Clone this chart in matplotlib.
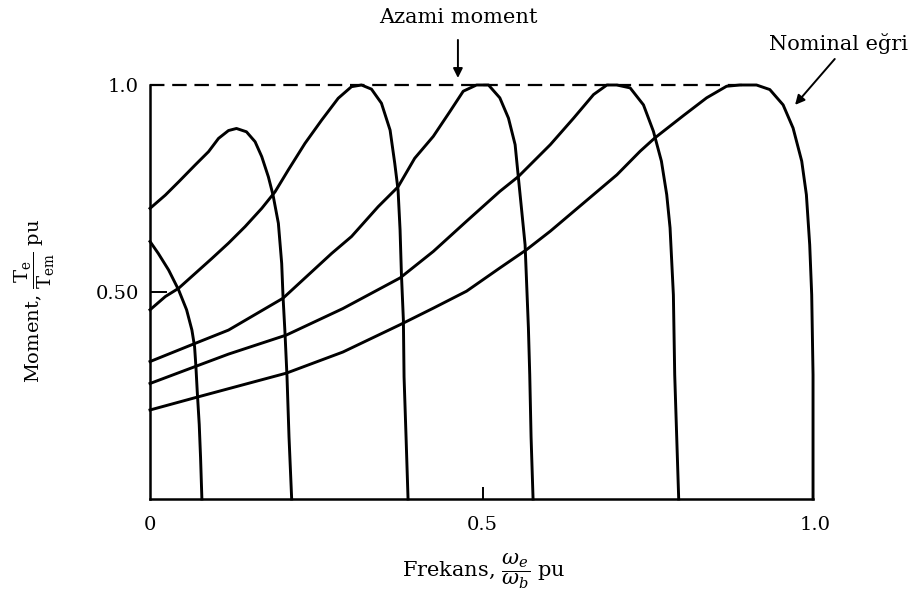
import matplotlib.pyplot as plt

plt.rcParams['font.family'] = ['DejaVu Serif']
plt.rcParams['mathtext.fontset'] = 'dejavuserif'

# torque-speed curves at different supply frequencies (per unit)
f008_x = [0, 0.0125, 0.028, 0.043, 0.055, 0.063, 0.067, 0.069, 0.071, 0.074, 0.076, 0.078]
f008_y = [0.622, 0.593, 0.553, 0.505, 0.457, 0.408, 0.368, 0.32, 0.26, 0.18, 0.1, 0.0]

f021_x = [0, 0.023, 0.043, 0.068, 0.088, 0.103, 0.118, 0.130, 0.145, 0.158, 0.168, 0.178,
          0.185, 0.193, 0.198, 0.200, 0.203, 0.206, 0.209, 0.213]
f021_y = [0.702, 0.734, 0.766, 0.807, 0.839, 0.871, 0.890, 0.895, 0.887, 0.863, 0.827, 0.778,
          0.734, 0.666, 0.569, 0.489, 0.40, 0.295, 0.15, 0.0]

f039_x = [0, 0.023, 0.043, 0.068, 0.093, 0.118, 0.143, 0.168, 0.188, 0.208, 0.233, 0.258,
          0.283, 0.303, 0.318, 0.333, 0.348, 0.361, 0.368, 0.373, 0.376, 0.378, 0.381,
          0.382, 0.385, 0.388]
f039_y = [0.457, 0.489, 0.509, 0.545, 0.581, 0.618, 0.658, 0.702, 0.742, 0.795, 0.859, 0.915,
          0.968, 0.996, 1.0, 0.99, 0.956, 0.891, 0.811, 0.746, 0.65, 0.545, 0.432,
          0.295, 0.15, 0.0]

f058_x = [0, 0.068, 0.118, 0.2, 0.273, 0.303, 0.343, 0.373, 0.398, 0.426, 0.451, 0.471,
          0.491, 0.509, 0.526, 0.539, 0.549, 0.554, 0.559, 0.564, 0.566, 0.569, 0.571,
          0.573, 0.576]
f058_y = [0.332, 0.376, 0.408, 0.485, 0.593, 0.634, 0.706, 0.754, 0.823, 0.876, 0.936, 0.985,
          1.0, 1.0, 0.969, 0.92, 0.856, 0.775, 0.695, 0.614, 0.534, 0.413, 0.30,
          0.15, 0.0]

f080_x = [0, 0.068, 0.118, 0.205, 0.29, 0.376, 0.426, 0.476, 0.526, 0.554, 0.602, 0.637,
          0.667, 0.687, 0.702, 0.722, 0.742, 0.757, 0.769, 0.777, 0.782, 0.787, 0.789,
          0.792, 0.795]
f080_y = [0.279, 0.32, 0.35, 0.396, 0.46, 0.534, 0.598, 0.671, 0.743, 0.779, 0.856, 0.92,
          0.977, 1.0, 1.0, 0.993, 0.952, 0.888, 0.816, 0.735, 0.655, 0.493, 0.30,
          0.15, 0.0]

f100_x = [0, 0.073, 0.205, 0.29, 0.376, 0.426, 0.476, 0.526, 0.566, 0.602, 0.652, 0.702,
          0.737, 0.759, 0.802, 0.837, 0.867, 0.887, 0.912, 0.932, 0.952, 0.967, 0.98,
          0.987, 0.992, 0.995, 0.997, 0.997]
f100_y = [0.215, 0.247, 0.304, 0.355, 0.421, 0.461, 0.502, 0.558, 0.602, 0.647, 0.715, 0.783,
          0.84, 0.872, 0.926, 0.969, 0.997, 1.0, 1.0, 0.989, 0.952, 0.896, 0.816,
          0.735, 0.614, 0.493, 0.30, 0.0]

curves = [(f008_x, f008_y), (f021_x, f021_y), (f039_x, f039_y),
          (f058_x, f058_y), (f080_x, f080_y), (f100_x, f100_y)]

max_torque = 1.0
max_torque_end = 0.89

fig = plt.figure(figsize=(9.17, 6.05), dpi=100)
ax = fig.add_axes([0.1636, 0.1752, 0.7252, 0.6843])

for cx, cy in curves:
    ax.plot(cx, cy, color='black', lw=2.1, clip_on=False, solid_joinstyle='round')

# maximum torque line
ax.plot([0, max_torque_end], [max_torque, max_torque], color='black', lw=1.6,
        dashes=(6.5, 3.5), clip_on=False)

ax.set_xlim(0, 1.0)
ax.set_ylim(0, 1.0)
ax.spines['top'].set_visible(False)
ax.spines['right'].set_visible(False)
ax.spines['left'].set_linewidth(1.8)
ax.spines['bottom'].set_linewidth(1.8)
ax.spines['bottom'].set_bounds(0, 0.997)

ax.set_xticks([0, 0.5, 1.0])
ax.set_xticklabels(['0', '0.5', '1.0'])
ax.set_yticks([0.5, 1.0])
ax.set_yticklabels(['0.50', '1.0'])
ax.tick_params(direction='in', length=9, width=1.4, labelsize=14, pad=12)
ax.tick_params(axis='y', length=12, pad=8)
for t in ax.xaxis.get_major_ticks():
    if t.get_loc() != 0.5:
        t.tick1line.set_visible(False)
ax.yaxis.get_major_ticks()[1].tick1line.set_visible(False)

ax.set_xlabel(r'Frekans, $\dfrac{\omega_e}{\omega_b}$ pu', fontsize=15)
ax.xaxis.set_label_coords(0.502, -0.128)
ax.set_ylabel(r'Moment, $\dfrac{\mathrm{T_e}}{\mathrm{T_{em}}}$ pu', fontsize=14)
ax.yaxis.set_label_coords(-0.14, 0.478)

ax.annotate('Azami moment', xy=(0.463, 1.017), xytext=(0.463, 1.162),
            ha='center', va='center', fontsize=15, annotation_clip=False,
            arrowprops=dict(arrowstyle='-|>', color='black', lw=1.4,
                            mutation_scale=14, relpos=(0.5, 0.0),
                            shrinkA=7, shrinkB=0))
ax.annotate('Nominal eğri', xy=(0.97, 0.952), xytext=(1.036, 1.10),
            ha='center', va='center', fontsize=15, annotation_clip=False,
            arrowprops=dict(arrowstyle='-|>', color='black', lw=1.4,
                            mutation_scale=14, relpos=(0.5, 0.0),
                            shrinkA=2, shrinkB=0))

fig.savefig('out.png', dpi=100)
